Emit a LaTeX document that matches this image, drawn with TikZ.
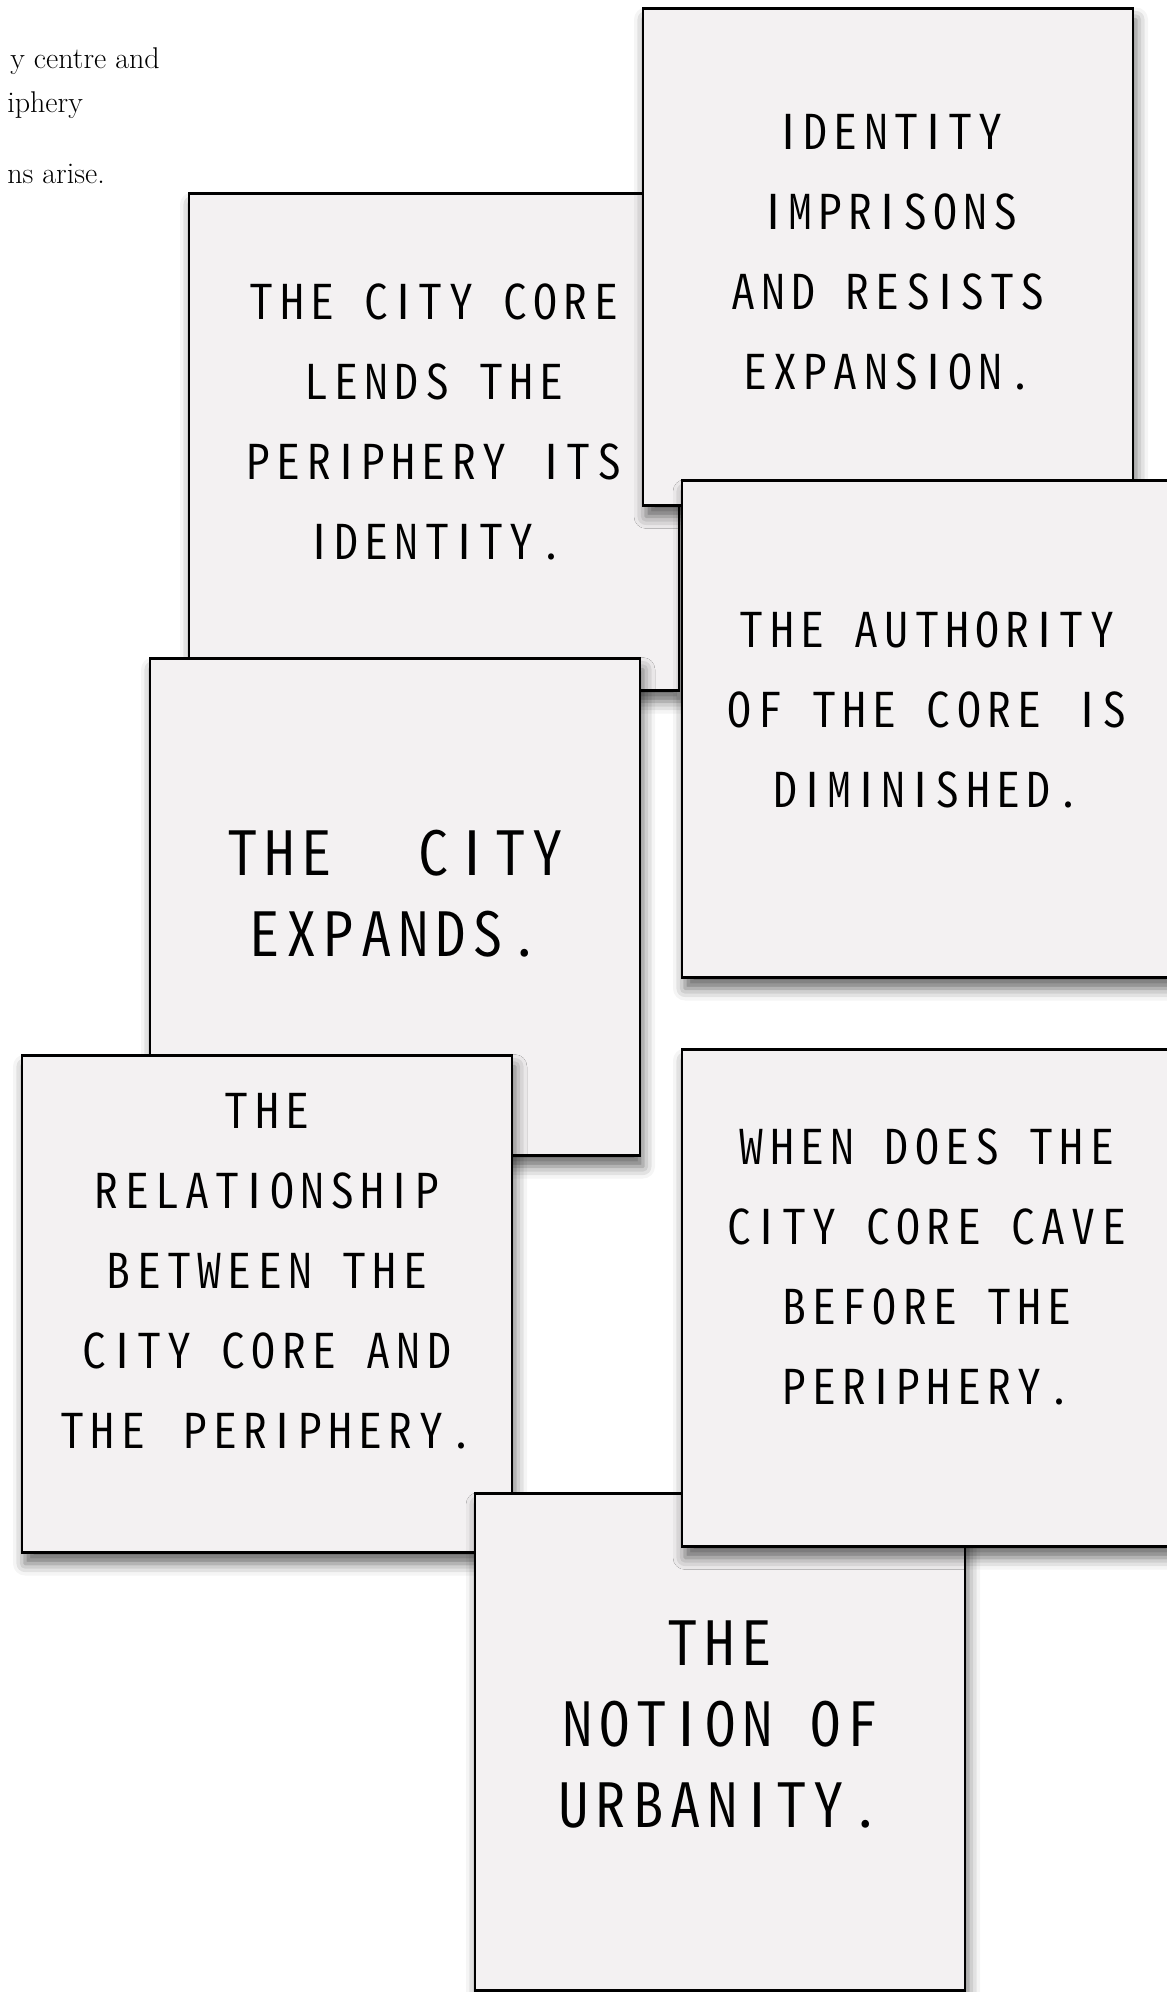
\documentclass[tikz,border=0pt]{standalone}
\usepackage{fontspec}
\usepackage{tikz}
\usetikzlibrary{positioning}
\usetikzlibrary{shadows.blur}
\newfontfamily\cardFont[RawFeature=+hwid, LetterSpace=13]{Noto Sans CJK JP DemiLight}
\newfontfamily\cardFontLarge[RawFeature=+hwid, LetterSpace=11]{Noto Sans CJK JP DemiLight}
\newfontfamily\barFont{Noto Sans CJK JP}
\tikzstyle{pixels} = [x = 1pt, y = -1pt]
\definecolor{cardColor}{RGB}{243,241,242}
\tikzstyle{cardStyle} = [draw=black, fill=cardColor, line width=2.6pt, inner sep=0pt, minimum width=490pt, minimum height=497pt, blur shadow={shadow xshift=3pt, shadow yshift=-11pt, shadow blur radius=12pt, shadow opacity=60}]
\tikzstyle{cardText} = [align=center, inner sep=0pt, font=\cardFont\fontsize{48}{80}\selectfont]
\tikzstyle{cardTextLarge} = [align=center, inner sep=0pt, font=\cardFontLarge\fontsize{61}{81}\selectfont]
\tikzstyle{noteText} = [inner sep=0pt, font=\fontsize{30}{36}\selectfont]
\newcommand{\I}{\makebox[0.63em]{\barFont I}}
\newcommand{\card}[6]{\node [cardStyle] (#1) at (#2, #3) {}; \node [#5] (#1Text) at (#2, #4) {#6};}

\begin{document}
\begin{tikzpicture}[pixels]
          \useasboundingbox (0, 0) rectangle (1167, 1992);
          % notes at the top left
          \node [noteText, anchor=base east] (noteOne) at (160, 68) {y centre and};
          \node [noteText, anchor=base east] (noteTwo) at (83, 112) {iphery};
          \node [noteText, anchor=base east] (noteThree) at (105, 183) {ns arise.};

          \card{coreLends}{434}{442}{422}{cardText}{THE C\I TY CORE\\LENDS THE\\PER\I PHERY \I TS\\\I DENT\I TY.}
          \card{identity}{888}{257}{252}{cardText}{\I DENT\I TY\\\I MPR\I SONS\\AND RES\I STS\\EXPANS\I ON.}
          \card{authority}{927}{729}{710}{cardText}{THE AUTHOR\I TY\\OF THE CORE \I S\\D\I M\I N\I SHED.}
          \card{expands}{395}{907}{894}{cardTextLarge}{THE~~\hspace{12pt}C\hspace{4pt}\I\hspace{4pt}TY\\EXPANDS.}
          \card{relationship}{267}{1304}{1271}{cardText}{THE\\RELAT\I ONSH\I P\\BETWEEN THE\\C\I TY CORE AND\\THE~\hspace{8pt}PER\I PHERY.}
          \card{urbanity}{720}{1742}{1724}{cardTextLarge}{THE\\NOT\I ON OF\\URBAN\I TY.}
          \card{cave}{927}{1298}{1267}{cardText}{WHEN DOES THE\\C\I TY CORE CAVE\\BEFORE THE\\PER\I PHERY.}
\end{tikzpicture}
\end{document}
